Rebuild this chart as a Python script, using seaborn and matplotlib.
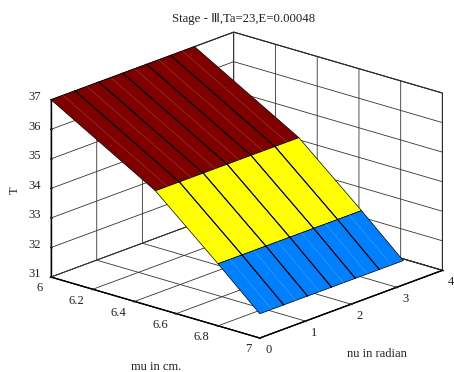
import numpy as np
import seaborn as sns
import matplotlib
matplotlib.use("Agg")
import matplotlib.pyplot as plt

mu = [6.0, 6.5, 6.8, 7.0]
nu = [0.0, 0.524, 1.047, 1.571, 2.094, 2.618, 3.142]
T_by_mu = [37.0, 34.95, 33.1, 31.82]
band_colors = ["#800000", "#FFFF00", "#0080FF"]

mu_ticks = [6, 6.2, 6.4, 6.6, 6.8, 7]
mu_labels = ["6", "6.2", "6.4", "6.6", "6.8", "7"]
nu_ticks = [0, 1, 2, 3, 4]
nu_labels = ["0", "1", "2", "3", "4"]
T_ticks = [31, 32, 33, 34, 35, 36, 37]
T_labels = ["31", "32", "33", "34", "35", "36", "37"]

sns.set_theme(style="white")
plt.rcParams["font.family"] = ["Liberation Serif", "DejaVu Sans"]

fig = plt.figure(figsize=(4.54, 3.72), dpi=100)
# the 3d axes box is square, so it has to overflow the figure or the surface gets clipped
ax = fig.add_axes([-0.172, -0.2164, 1.4, 1.4], projection="3d", proj_type="ortho")
ax.computed_zorder = False
ax.view_init(elev=19.2, azim=-48.4)
ax.set_box_aspect((278, 274, 187), zoom=0.81)

M, N = np.meshgrid(mu, nu, indexing="ij")
Z = np.tile(np.array(T_by_mu)[:, None], (1, len(nu)))
faces = np.empty((3, 6), dtype=object)
for i in range(3):
    faces[i, :] = band_colors[i]
ax.plot_surface(M, N, Z, facecolors=faces, shade=False, edgecolor="black",
                linewidth=0.5, rcount=4, ccount=7, zorder=2)

# black mesh lines along mu, faint light ones in the middle of each strip
for n in nu[1:-1]:
    ax.plot(mu, [n] * 4, T_by_mu, color="black", lw=0.8, zorder=4)
for a, b in zip(nu[:-1], nu[1:]):
    ax.plot(mu, [(a + b) / 2] * 4, T_by_mu, color="white", lw=0.4, alpha=0.25, zorder=3)

ax.set_xlim(6, 7, view_margin=0)
ax.set_ylim(0, 4, view_margin=0)
ax.set_zlim(31, 37, view_margin=0)
ax.set_xticks(mu_ticks, mu_labels, ha="right", va="center")
ax.set_yticks(nu_ticks, nu_labels, ha="left")
ax.set_zticks(T_ticks, T_labels, va="baseline")
ax.tick_params(labelsize=9, colors="#222222")
ax.tick_params(axis="x", pad=1)
ax.tick_params(axis="y", pad=-3)
ax.tick_params(axis="z", pad=0)

for axis in (ax.xaxis, ax.yaxis, ax.zaxis):
    axis.set_pane_color((1, 1, 1, 1))
    axis.pane.set_edgecolor("black")
    axis.pane.set_linewidth(0.8)
    axis.line.set_color("black")
    axis.line.set_linewidth(1.0)
    axis._axinfo["grid"].update(color="#333333", linewidth=0.6)
    axis._axinfo["tick"].update(inward_factor=0.05, outward_factor=0.02)
ax.zaxis._axinfo["juggled"] = (1, 2, 0)

fig.text(156 / 454, 1 - 367 / 372, "mu in cm.", ha="center", va="center", fontsize=9, color="#222222")
fig.text(377 / 454, 1 - 354 / 372, "nu in radian", ha="center", va="center", fontsize=9, color="#222222")
fig.text(15 / 454, 1 - 190 / 372, "T", ha="center", va="center", rotation=90, fontsize=9, color="#222222")
fig.text(244 / 454, 1 - 19 / 372, "Stage - Ⅲ,Ta=23,E=0.00048", ha="center", va="center",
         fontsize=9.2, color="#222222")

fig.savefig("out.png", dpi=100)
